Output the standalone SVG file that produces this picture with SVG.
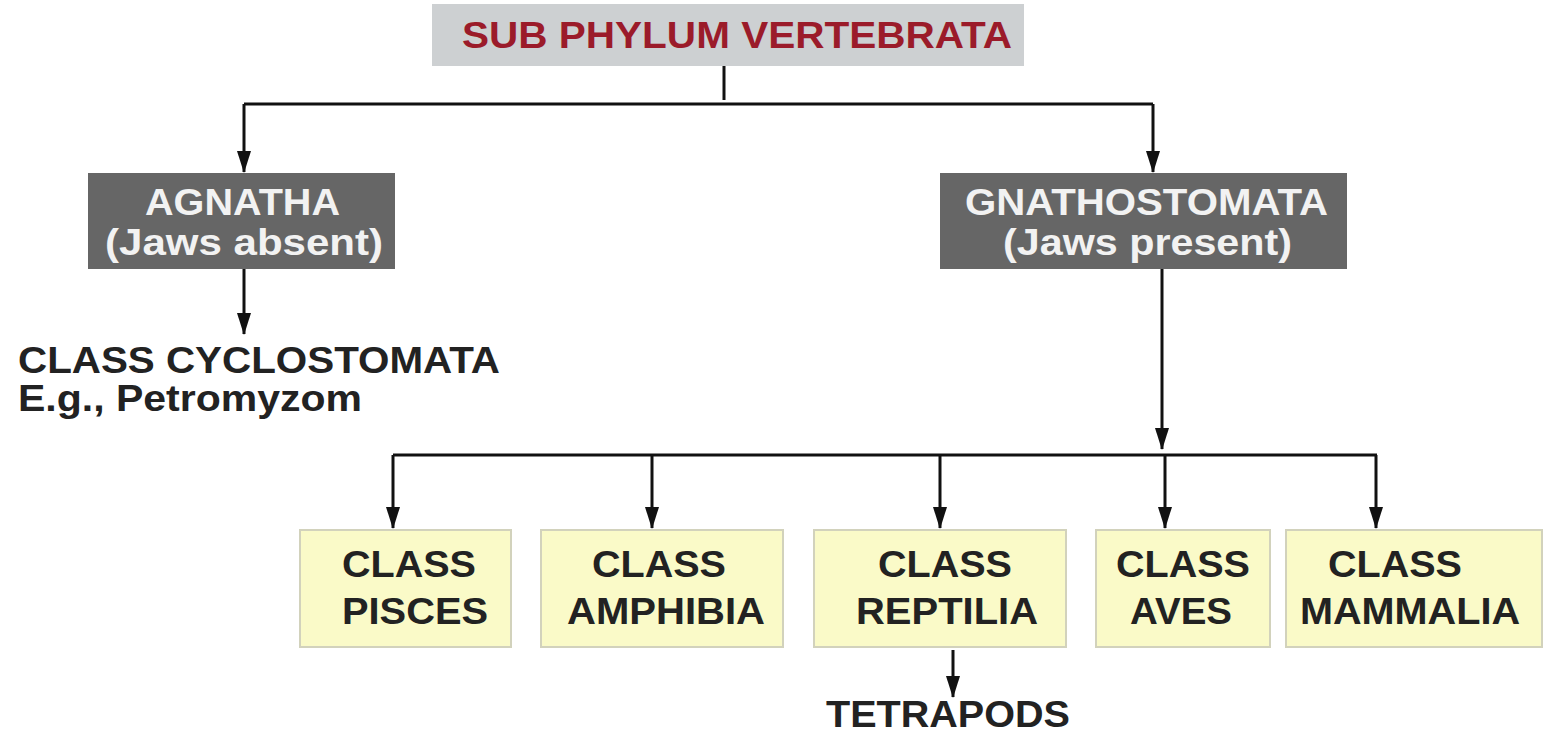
<svg xmlns="http://www.w3.org/2000/svg" width="1546" height="732" viewBox="0 0 1546 732">
<style>
.t{font-family:"Liberation Sans",Arial,sans-serif;font-weight:bold;font-size:36px}
.dk{fill:#666666}
.yl{fill:#fafac8;stroke:#d2d2bc;stroke-width:2}
.w{fill:#f2f2f2}
.b{fill:#222222}
.ln{stroke:#111111;stroke-width:3;fill:none}
</style>
<defs>
<marker id="ah" markerUnits="userSpaceOnUse" markerWidth="22" markerHeight="16" refX="21" refY="8" orient="auto" viewBox="0 0 22 16">
<path d="M0,1 L22,8 L0,15 Z" fill="#111111"/>
</marker>
</defs>
<rect width="1546" height="732" fill="#ffffff"/>
<g id="connectors">
<path class="ln" d="M724,66 V100"/>
<path class="ln" d="M244,104 H1153"/>
<path class="ln" d="M244,104 V172" marker-end="url(#ah)"/>
<path class="ln" d="M1153,104 V172" marker-end="url(#ah)"/>
<path class="ln" d="M244,269 V334" marker-end="url(#ah)"/>
<path class="ln" d="M1162,269 V449" marker-end="url(#ah)"/>
<path class="ln" d="M393,455 H1377"/>
<path class="ln" d="M393,455 V528" marker-end="url(#ah)"/>
<path class="ln" d="M652,455 V528" marker-end="url(#ah)"/>
<path class="ln" d="M940,455 V528" marker-end="url(#ah)"/>
<path class="ln" d="M1165,455 V528" marker-end="url(#ah)"/>
<path class="ln" d="M1376,455 V528" marker-end="url(#ah)"/>
<path class="ln" d="M953,650 V697" marker-end="url(#ah)"/>
</g>
<g id="vertebrata">
<rect x="432" y="4" width="592" height="62" fill="#cdd0d2"/>
<text class="t" x="462" y="48" fill="#9b1b2a" textLength="550" lengthAdjust="spacingAndGlyphs">SUB PHYLUM VERTEBRATA</text>
</g>
<g id="agnatha">
<rect class="dk" x="88" y="173" width="307" height="96"/>
<text class="t w" x="145" y="215" textLength="195" lengthAdjust="spacingAndGlyphs">AGNATHA</text>
<text class="t w" x="105" y="255" textLength="278" lengthAdjust="spacingAndGlyphs">(Jaws absent)</text>
</g>
<g id="cyclostomata">
<text class="t b" x="18" y="373" textLength="482" lengthAdjust="spacingAndGlyphs">CLASS CYCLOSTOMATA</text>
<text class="t b" x="18" y="411" textLength="344" lengthAdjust="spacingAndGlyphs">E.g., Petromyzom</text>
</g>
<g id="gnathostomata">
<rect class="dk" x="940" y="173" width="407" height="96"/>
<text class="t w" x="965" y="215" textLength="363" lengthAdjust="spacingAndGlyphs">GNATHOSTOMATA</text>
<text class="t w" x="1003" y="255" textLength="289" lengthAdjust="spacingAndGlyphs">(Jaws present)</text>
</g>
<g id="pisces">
<rect class="yl" x="300" y="530" width="211" height="117"/>
<text class="t b" x="342" y="577" textLength="134" lengthAdjust="spacingAndGlyphs">CLASS</text>
<text class="t b" x="342" y="624" textLength="146" lengthAdjust="spacingAndGlyphs">PISCES</text>
</g>
<g id="amphibia">
<rect class="yl" x="541" y="530" width="242" height="117"/>
<text class="t b" x="592" y="577" textLength="134" lengthAdjust="spacingAndGlyphs">CLASS</text>
<text class="t b" x="567" y="624" textLength="198" lengthAdjust="spacingAndGlyphs">AMPHIBIA</text>
</g>
<g id="reptilia">
<rect class="yl" x="814" y="530" width="252" height="117"/>
<text class="t b" x="878" y="577" textLength="134" lengthAdjust="spacingAndGlyphs">CLASS</text>
<text class="t b" x="856" y="624" textLength="182" lengthAdjust="spacingAndGlyphs">REPTILIA</text>
</g>
<g id="aves">
<rect class="yl" x="1096" y="530" width="174" height="117"/>
<text class="t b" x="1116" y="577" textLength="134" lengthAdjust="spacingAndGlyphs">CLASS</text>
<text class="t b" x="1130" y="624" textLength="102" lengthAdjust="spacingAndGlyphs">AVES</text>
</g>
<g id="mammalia">
<rect class="yl" x="1286" y="530" width="256" height="117"/>
<text class="t b" x="1328" y="577" textLength="134" lengthAdjust="spacingAndGlyphs">CLASS</text>
<text class="t b" x="1300" y="624" textLength="220" lengthAdjust="spacingAndGlyphs">MAMMALIA</text>
</g>
<g id="tetrapods">
<text class="t b" x="826" y="727" textLength="244" lengthAdjust="spacingAndGlyphs">TETRAPODS</text>
</g>
</svg>
